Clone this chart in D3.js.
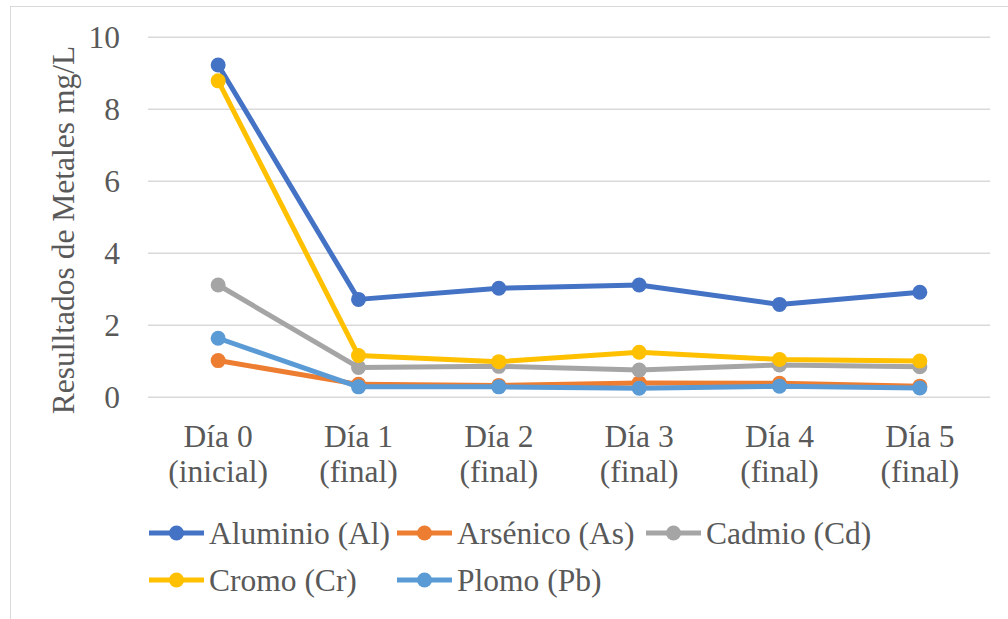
<!DOCTYPE html>
<html>
<head>
<meta charset="utf-8">
<script src="https://cdn.jsdelivr.net/npm/d3@7"></script>
<style>
  html, body { margin: 0; padding: 0; background: #fff; }
</style>
</head>
<body>
<svg id="chart" width="1008" height="619" font-family="Liberation Serif"></svg>
<script>
// Metal concentrations (mg/L) per sampling day
const categories = [["Día 0", "(inicial)"], ["Día 1", "(final)"], ["Día 2", "(final)"],
                    ["Día 3", "(final)"], ["Día 4", "(final)"], ["Día 5", "(final)"]];
const seriesNames = ["Aluminio (Al)", "Arsénico (As)", "Cadmio (Cd)", "Cromo (Cr)", "Plomo (Pb)"];
const aluminio  = [9.23, 2.72, 3.03, 3.12, 2.58, 2.92];
const arsenico  = [1.02, 0.36, 0.33, 0.40, 0.39, 0.31];
const cadmio    = [3.12, 0.83, 0.86, 0.76, 0.90, 0.85];
const cromo     = [8.79, 1.16, 0.99, 1.25, 1.05, 1.01];
const plomo     = [1.64, 0.29, 0.29, 0.25, 0.31, 0.26];
const yTicks    = [0, 2, 4, 6, 8, 10];
const yTitle    = "Resulltados de Metales mg/L";

const colors = ["#4472C4", "#ED7D31", "#A5A5A5", "#FFC000", "#5B9BD5"];
const seriesValues = [aluminio, arsenico, cadmio, cromo, plomo];
const series = seriesNames.map((name, i) => ({ name, values: seriesValues[i], color: colors[i] }));

const svg = d3.select("#chart");
const textColor = "#595959";
const fontSize = 31.5;
const serif = "Liberation Serif";

// chart area frame
svg.append("rect")
  .attr("x", 10.5).attr("y", 6.5)
  .attr("width", 1010).attr("height", 620)
  .attr("fill", "none").attr("stroke", "#d9d9d9").attr("stroke-width", 1);

const plot = { left: 148, right: 990, top: 37.3, bottom: 397.3 };

const x = d3.scaleBand()
  .domain(d3.range(categories.length))
  .range([plot.left, plot.right]);

const y = d3.scaleLinear()
  .domain([0, 10])
  .range([plot.bottom, plot.top]);

// horizontal gridlines
svg.append("g")
  .selectAll("line")
  .data(yTicks)
  .join("line")
  .attr("x1", plot.left).attr("x2", plot.right)
  .attr("y1", d => y(d)).attr("y2", d => y(d))
  .attr("stroke", "#d9d9d9").attr("stroke-width", 1.5);

// y axis labels
const yAxis = svg.append("g")
  .attr("transform", `translate(${plot.left},0)`)
  .call(d3.axisLeft(y).tickValues(yTicks).tickSize(0).tickPadding(28))
  .attr("font-family", serif)
  .attr("font-size", fontSize);
yAxis.select(".domain").remove();
yAxis.selectAll("text")
  .attr("fill", textColor)
  .attr("font-family", serif)
  .attr("font-size", fontSize);

// x axis labels (two lines)
const xAxis = svg.append("g")
  .attr("transform", `translate(0,${plot.bottom})`)
  .call(d3.axisBottom(x).tickSize(0).tickFormat(""))
  .attr("font-family", serif)
  .attr("font-size", fontSize);
xAxis.select(".domain").remove();
xAxis.selectAll(".tick").each(function (d) {
  const t = d3.select(this).append("text")
    .attr("fill", textColor)
    .attr("text-anchor", "middle")
    .attr("font-family", serif)
    .attr("font-size", fontSize);
  categories[d].forEach((line, i) => {
    t.append("tspan").attr("x", 0).attr("y", 50 + i * 35).text(line);
  });
});

// y axis title
svg.append("text")
  .attr("transform", `translate(74,${(45 + 415) / 2}) rotate(-90)`)
  .attr("text-anchor", "middle")
  .attr("fill", textColor)
  .attr("font-family", serif)
  .attr("font-size", fontSize)
  .text(yTitle);

// series lines and markers
const cx = i => x(i) + x.bandwidth() / 2;
const line = d3.line().x((d, i) => cx(i)).y(d => y(d));

const gSeries = svg.append("g");
series.forEach(s => {
  const g = gSeries.append("g");
  g.append("path")
    .attr("d", line(s.values))
    .attr("fill", "none")
    .attr("stroke", s.color)
    .attr("stroke-width", 5)
    .attr("stroke-linejoin", "round");
  g.selectAll("circle")
    .data(s.values)
    .join("circle")
    .attr("cx", (d, i) => cx(i))
    .attr("cy", d => y(d))
    .attr("r", 7.5)
    .attr("fill", s.color);
});

// legend
const legendPos = [
  { x: 149, y: 533 }, { x: 397, y: 533 }, { x: 646, y: 533 },
  { x: 149, y: 580 }, { x: 397, y: 580 }
];
const legend = svg.append("g");
series.forEach((s, i) => {
  const p = legendPos[i];
  const g = legend.append("g").attr("transform", `translate(${p.x},${p.y})`);
  g.append("line")
    .attr("x1", 0).attr("x2", 55).attr("y1", 0).attr("y2", 0)
    .attr("stroke", s.color).attr("stroke-width", 5);
  g.append("circle").attr("cx", 27.5).attr("cy", 0).attr("r", 7.5).attr("fill", s.color);
  g.append("text")
    .attr("x", 60).attr("y", 0).attr("dy", "0.35em")
    .attr("fill", textColor)
    .attr("font-family", serif)
    .attr("font-size", fontSize)
    .text(s.name);
});
</script>
</body>
</html>
